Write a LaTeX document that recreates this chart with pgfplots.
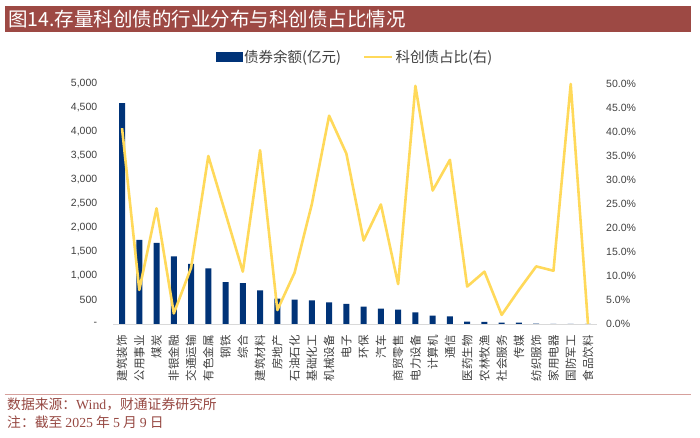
\documentclass[border=0pt]{standalone}
\usepackage{fontspec}
\setmainfont{Liberation Sans}
\newfontfamily\cjk{Noto Sans CJK SC}
\newfontfamily\serifl{Liberation Serif}
\usepackage{pgfplots}
\pgfplotsset{compat=1.18}
\usepackage{pgfplotstable}
\definecolor{navy}{RGB}{0,51,120}
\definecolor{gold}{RGB}{255,217,90}
\definecolor{titlered}{RGB}{157,73,68}
\definecolor{footred}{RGB}{150,72,66}
\definecolor{footline}{RGB}{214,160,156}
\definecolor{axisgray}{RGB}{217,217,217}
\definecolor{ticktext}{RGB}{64,64,64}

\pgfplotstableread{
idx bal pct
0 4600 40.8
1 1750 7.1
2 1690 24.1
3 1410 2.2
4 1250 11.7
5 1160 35.0
6 870 23.0
7 850 10.9
8 700 36.2
9 530 2.9
10 510 10.7
11 490 25.0
12 450 43.4
13 420 35.5
14 360 17.4
15 320 24.9
16 300 8.3
17 240 49.6
18 175 27.8
19 160 34.2
20 50 7.8
21 45 10.9
22 28 1.9
23 28 7.1
24 6 12.0
25 5 11.1
26 4 50.0
27 2 0.0
}\datatable

\begin{document}
\begin{tikzpicture}[x=1pt,y=1pt]
\path[use as bounding box] (0,0) rectangle (700,438);
% title bar
\fill[titlered] (4.5,406) rectangle (691,432);
\node[anchor=west, text=white, inner sep=0pt] at (8,419) {\cjk\fontsize{19.5}{19.5}\selectfont 图14.存量科创债的行业分布与科创债占比情况};

\begin{axis}[
  at={(113.4pt,114pt)}, anchor=south west,
  scale only axis, width=483.2pt, height=240pt,
  xmin=-0.5, xmax=27.5, ymin=0, ymax=5000,
  axis x line*=bottom, axis y line*=left,
  x axis line style={draw=axisgray, line width=0.9pt, -},
  y axis line style={draw=none},
  major tick length=0pt,
  xtick={0,...,27},
  xticklabels={建筑装饰,公用事业,煤炭,非银金融,交通运输,有色金属,钢铁,综合,建筑材料,房地产,石油石化,基础化工,机械设备,电子,环保,汽车,商贸零售,电力设备,计算机,通信,医药生物,农林牧渔,社会服务,传媒,纺织服饰,家用电器,国防军工,食品饮料},
  xticklabel style={rotate=90, anchor=east, inner sep=0pt, text=ticktext, font=\cjk\fontsize{11.5}{11.5}\selectfont},
  xticklabel shift=11pt,
  ytick={0,500,...,5000},
  yticklabels={{-\hspace{12pt}},{500},{1,000},{1,500},{2,000},{2,500},{3,000},{3,500},{4,000},{4,500},{5,000}},
  yticklabel style={inner sep=0pt, anchor=east, text=ticktext, font=\fontsize{10.5}{10.5}\selectfont},
  yticklabel shift=16pt,
  clip=false,
]
\addplot[ybar, bar width=6pt, fill=navy, draw=none] table[x=idx, y=bal] {\datatable};
\end{axis}

\begin{axis}[
  at={(113.4pt,114pt)}, anchor=south west,
  scale only axis, width=483.2pt, height=240pt,
  xmin=-0.5, xmax=27.5, ymin=0, ymax=50,
  axis x line=none, axis y line*=right,
  y axis line style={draw=none},
  major tick length=0pt,
  ytick={0,5,...,50},
  yticklabel={\pgfmathprintnumber[fixed,fixed zerofill,precision=1]{\tick}\%},
  /pgf/number format/assume math mode=true,
  yticklabel style={inner sep=0pt, anchor=west, text=ticktext, font=\fontsize{10.5}{10.5}\selectfont},
  yticklabel shift=9.4pt,
  clip=false,
  legend style={at={(axis description cs:0.5,1.1125)}, anchor=center, draw=none, fill=none,
    legend columns=2, font=\cjk\fontsize{14.5}{14.5}\selectfont, text=ticktext, inner sep=0pt,
    /tikz/every even column/.append style={column sep=20pt}},
  legend cell align=left,
]
\addlegendimage{legend image code/.code={\fill[navy] (0pt,-4.5pt) rectangle (26pt,4.5pt);}}
\addplot[gold, line width=2.6pt, line join=round, legend image code/.code={\draw[gold, line width=2.6pt] (0pt,0pt) -- (28pt,0pt);}] table[x=idx, y=pct] {\datatable};
\legend{债券余额(亿元),科创债占比(右)}
\end{axis}

% footer
\draw[footline, line width=0.9pt] (4.5,44) -- (691,44);
\node[anchor=west, text=footred, inner sep=0pt] at (7,34) {\cjk\fontsize{13.8}{13.8}\selectfont 数据来源：{\serifl Wind}，财通证券研究所};
\node[anchor=west, text=footred, inner sep=0pt] at (7,15.5) {\cjk\fontsize{13.8}{13.8}\selectfont 注：截至 {\serifl 2025} 年 {\serifl 5} 月 {\serifl 9} 日};
\end{tikzpicture}
\end{document}
